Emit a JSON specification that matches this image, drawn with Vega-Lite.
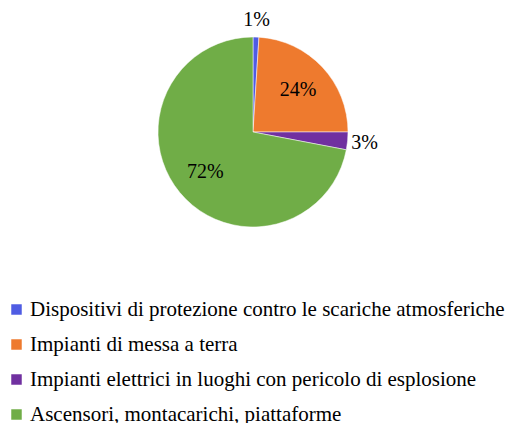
{
  "$schema": "https://vega.github.io/schema/vega-lite/v6.json",
  "width": 506,
  "height": 264,
  "padding": 0,
  "autosize": {"type": "pad"},
  "background": "white",
  "config": {"view": {"stroke": null}, "font": "Liberation Serif", "legend": {"labelFont": "Liberation Serif"}, "text": {"font": "Liberation Serif"}},
  "data": {"values": [
    {"cat": "Dispositivi di protezione contro le scariche atmosferiche", "val": 1, "ord": 1, "lbl": "1%"},
    {"cat": "Impianti di messa a terra", "val": 24, "ord": 2, "lbl": "24%"},
    {"cat": "Impianti elettrici in luoghi con pericolo di esplosione", "val": 3, "ord": 3, "lbl": "3%"},
    {"cat": "Ascensori, montacarichi, piattaforme", "val": 72, "ord": 4, "lbl": "72%"}
  ]},
  "encoding": {
    "theta": {"field": "val", "type": "quantitative", "stack": true},
    "order": {"field": "ord", "type": "quantitative"}
  },
  "layer": [
    {
      "mark": {"type": "arc", "outerRadius": 95, "stroke": "white", "strokeWidth": 0.5},
      "encoding": {
        "color": {
          "field": "cat", "type": "nominal",
          "sort": ["Dispositivi di protezione contro le scariche atmosferiche", "Impianti di messa a terra", "Impianti elettrici in luoghi con pericolo di esplosione", "Ascensori, montacarichi, piattaforme"],
          "scale": {"domain": ["Dispositivi di protezione contro le scariche atmosferiche", "Impianti di messa a terra", "Impianti elettrici in luoghi con pericolo di esplosione", "Ascensori, montacarichi, piattaforme"], "range": ["#4f5ce3", "#ee7a2e", "#7030a0", "#70ad47"]},
          "legend": {
            "title": null, "orient": "none", "legendX": 6, "legendY": 299, "direction": "vertical",
            "symbolType": "square", "symbolSize": 110, "symbolStrokeWidth": 0,
            "labelFont": "Liberation Serif", "labelFontSize": 21, "labelColor": "black",
            "labelLimit": 600, "rowPadding": 13, "symbolOffset": 0, "labelOffset": 3
          }
        }
      }
    },
    {
      "mark": {"type": "text", "radius": 62, "font": "Liberation Serif", "fontSize": 20, "color": "black", "align": "center", "baseline": "middle"},
      "encoding": {"text": {"condition": {"test": "datum.val >= 10", "field": "lbl"}, "value": ""}}
    },
    {
      "mark": {"type": "text", "radius": 112, "font": "Liberation Serif", "fontSize": 20, "color": "black", "align": "center", "baseline": "middle"},
      "encoding": {"text": {"condition": {"test": "datum.val < 10", "field": "lbl"}, "value": ""}}
    }
  ]
}
